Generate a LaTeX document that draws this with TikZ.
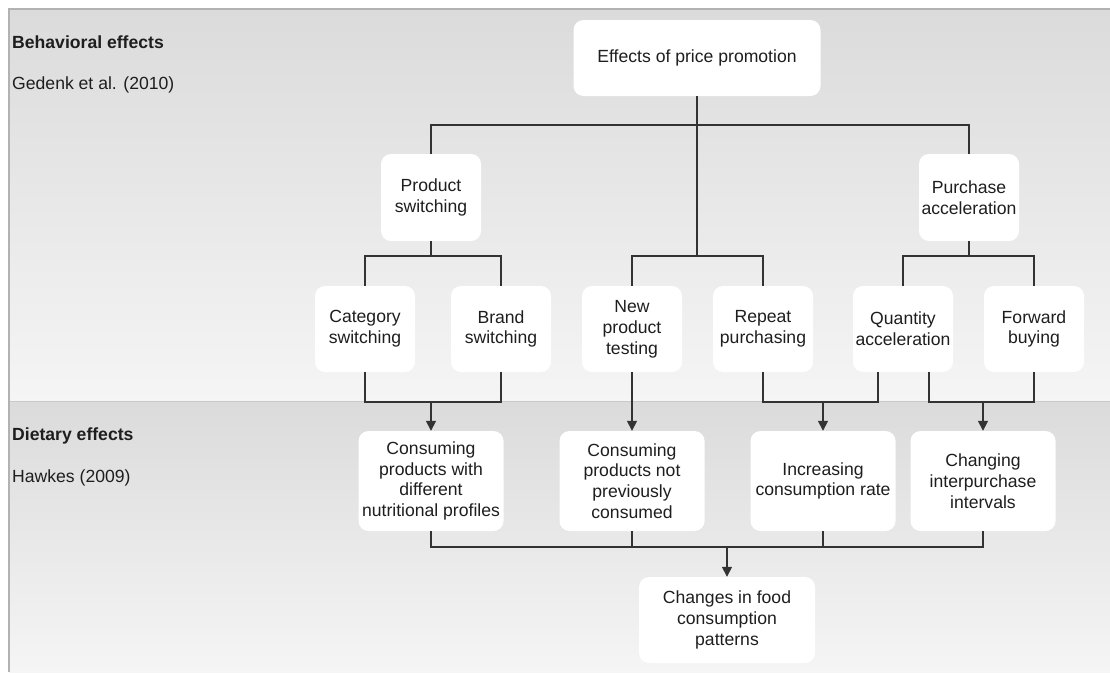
\documentclass[tikz,border=0pt]{standalone}
\usepackage{fontspec}
\setmainfont{Liberation Sans}
\usetikzlibrary{arrows.meta}
\definecolor{ink}{HTML}{1E1E1E}
\definecolor{wirec}{HTML}{333333}
\definecolor{frame}{HTML}{B2B2B2}
\definecolor{laneTop}{HTML}{DBDBDB}
\definecolor{laneBot}{HTML}{F5F5F5}
\definecolor{sepline}{HTML}{C9C9C9}
\tikzset{
  box/.style={fill=white, rounded corners=10pt, align=center, inner sep=0pt,
    text=ink, font=\fontsize{17.6}{20.8}\selectfont},
  lanelabel/.style={anchor=west, inner sep=0pt, text=ink,
    font=\fontsize{17.6}{20.8}\selectfont},
  wire/.style={draw=wirec, line width=1.5pt},
  arr/.style={wire, -{Triangle[width=10pt,length=10pt]}}
}
\begin{document}
\begin{tikzpicture}[x=1pt,y=-1pt]
\useasboundingbox (0,0) rectangle (1110,672);
\fill[white] (0,0) rectangle (1110,672);

% swimlanes
\shade[top color=laneTop, bottom color=laneBot] (9,9) rectangle (1110,401);
\shade[top color=laneTop, bottom color=laneBot] (9,401) rectangle (1110,672);
\draw[sepline, line width=1pt] (9,401) -- (1110,401);
\draw[frame, line width=2pt] (9,672) -- (9,9) -- (1110,9);

\node[lanelabel, font=\fontsize{17.6}{20.8}\selectfont\bfseries] (lb1) at (12,42) {Behavioral effects};
\node[lanelabel] (lb2) at (12,85) {Gedenk et al. (2010)};
\node[lanelabel, font=\fontsize{17.6}{20.8}\selectfont\bfseries] (lb3) at (12,436) {Dietary effects};
\node[lanelabel] (lb4) at (12,478) {Hawkes (2009)};

% level 1
\node[box, minimum width=247pt, minimum height=76pt] (top) at (697,58) {Effects of price promotion};

% level 2
\node[box, minimum width=100pt, minimum height=87pt] (ps) at (431,197.5) {Product\\switching};
\node[box, minimum width=100pt, minimum height=87pt] (pa) at (969,197.5) {Purchase\\acceleration};

% level 3
\node[box, minimum width=100pt, minimum height=86pt] (cs) at (365,329) {Category\\switching};
\node[box, minimum width=100pt, minimum height=86pt] (bs) at (501,329) {Brand\\switching};
\node[box, minimum width=100pt, minimum height=86pt] (np) at (632,329) {New\\product\\testing};
\node[box, minimum width=100pt, minimum height=86pt] (rp) at (763,329) {Repeat\\purchasing};
\node[box, minimum width=100pt, minimum height=86pt] (qa) at (903,329) {Quantity\\acceleration};
\node[box, minimum width=100pt, minimum height=86pt] (fb) at (1034,329) {Forward\\buying};

% level 4
\node[box, minimum width=145pt, minimum height=100pt] (c1) at (431,481) {Consuming\\products with\\different\\nutritional profiles};
\node[box, minimum width=145pt, minimum height=100pt] (c2) at (632,481) {Consuming\\products not\\previously\\consumed};
\node[box, minimum width=145pt, minimum height=100pt] (c3) at (823,481) {Increasing\\consumption rate};
\node[box, minimum width=145pt, minimum height=100pt] (c4) at (983,481) {Changing\\interpurchase\\intervals};

% level 5
\node[box, minimum width=176pt, minimum height=86pt] (fc) at (727,620) {Changes in food\\consumption\\patterns};

% bus heights
\coordinate (b1) at (0,125);
\coordinate (b2) at (0,256);
\coordinate (b3) at (0,402);
\coordinate (b4) at (0,547);
\coordinate (qaL) at ([xshift=-25pt]qa.south);
\coordinate (qaR) at ([xshift=26pt]qa.south);

% top split
\draw[wire] (top.south) -- (top.south |- b2);
\draw[wire] (ps.north) -- (ps.north |- b1) -- (pa.north |- b1) -- (pa.north);
\draw[wire] (np.north) -- (np.north |- b2) -- (rp.north |- b2) -- (rp.north);
\draw[wire] (ps.south) -- (ps.south |- b2);
\draw[wire] (cs.north) -- (cs.north |- b2) -- (bs.north |- b2) -- (bs.north);
\draw[wire] (pa.south) -- (pa.south |- b2);
\draw[wire] (qa.north) -- (qa.north |- b2) -- (fb.north |- b2) -- (fb.north);

% behavioural to dietary
\draw[wire] (cs.south) -- (cs.south |- b3) -- (bs.south |- b3) -- (bs.south);
\draw[arr] (c1.north |- b3) -- (c1.north);
\draw[arr] (np.south) -- (c2.north);
\draw[wire] (rp.south) -- (rp.south |- b3) -- (qaL |- b3) -- (qaL);
\draw[arr] (c3.north |- b3) -- (c3.north);
\draw[wire] (qaR) -- (qaR |- b3) -- (fb.south |- b3) -- (fb.south);
\draw[arr] (c4.north |- b3) -- (c4.north);

% dietary to outcome
\draw[wire] (c1.south) -- (c1.south |- b4) -- (c4.south |- b4) -- (c4.south);
\draw[wire] (c2.south) -- (c2.south |- b4);
\draw[wire] (c3.south) -- (c3.south |- b4);
\draw[arr] (fc.north |- b4) -- (fc.north);
\end{tikzpicture}
\end{document}
